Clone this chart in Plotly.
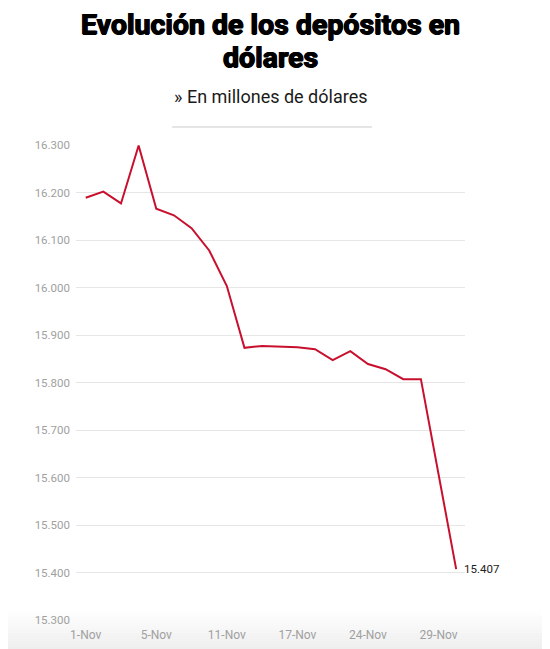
import plotly.graph_objects as go

# ---- data ----
dates = ["1-Nov", "2-Nov", "3-Nov", "4-Nov", "5-Nov", "6-Nov", "7-Nov", "8-Nov",
         "11-Nov", "12-Nov", "13-Nov", "14-Nov", "17-Nov", "18-Nov", "19-Nov", "20-Nov",
         "24-Nov", "25-Nov", "26-Nov", "27-Nov", "29-Nov", "30-Nov"]
deposits = [16189, 16202, 16177, 16299, 16166, 16152, 16125, 16078, 16003, 15873,
            15877, 15876, 15874, 15870, 15847, 15866, 15839, 15828, 15807, 15807,
            15605, 15407]
tick_dates = ["1-Nov", "5-Nov", "11-Nov", "17-Nov", "24-Nov", "29-Nov"]
y_ticks = [15300, 15400, 15500, 15600, 15700, 15800, 15900, 16000, 16100, 16200, 16300]

title_line1 = "Evolución de los depósitos en"
title_line2 = "dólares"
subtitle_text = "» En millones de dólares"
last_label = "15.407"

RED = "#c8102e"
TITLE_FONT = dict(family="Roboto, Arial", size=28.5,
                  color="#000000", weight=700,
                  shadow="0.7px 0 0 #000, -0.7px 0 0 #000, 0 0.5px 0 #000")

fig = go.Figure()
fig.add_trace(go.Scatter(
    x=dates, y=deposits, mode="lines",
    line=dict(color=RED, width=2),
    hoverinfo="x+y", showlegend=False,
))

shapes = [
    dict(type="line", xref="paper", yref="paper", x0=0.247, x1=0.761,
         y0=1.0379, y1=1.0379, line=dict(color="#cccccc", width=1)),
]
# bottom fade
n = 14
y_top, y_bot = 0.02, -0.062
for i in range(n):
    a = y_top + (y_bot - y_top) * i / n
    b = y_top + (y_bot - y_top) * (i + 1) / n
    shapes.append(dict(type="rect", xref="paper", yref="paper", x0=-0.3, x1=1.3,
                       y0=b, y1=a, line=dict(width=0), layer="below",
                       fillcolor="rgba(0,0,0,%.4f)" % (0.065 * (i + 1) / n)))

fig.update_layout(
    width=550, height=649,
    margin=dict(l=68, r=93, t=137, b=37),
    paper_bgcolor="white", plot_bgcolor="rgba(0,0,0,0)",
    separators=",.",
    font=dict(family="Roboto, Arial, sans-serif"),
    xaxis=dict(
        type="category", range=[-0.55, 21.5],
        showgrid=False, zeroline=False, showline=False,
        tickmode="array", tickvals=tick_dates, ticktext=tick_dates,
        tickfont=dict(size=12, color="#a0a0a0"),
        ticks="", ticklabelstandoff=6, fixedrange=True,
    ),
    yaxis=dict(
        range=[15300, 16300], tickmode="array", tickvals=y_ticks,
        tickformat=",.0f", showgrid=True, gridcolor="#e6e6e6", gridwidth=1,
        zeroline=False, showline=False, ticks="", ticklabelstandoff=5,
        tickfont=dict(size=11.5, color="#a0a0a0"), fixedrange=True,
    ),
    shapes=shapes,
    annotations=[
        dict(text=title_line1, xref="paper", yref="paper", x=0.5, y=1.2547,
             xanchor="center", yanchor="middle", showarrow=False, font=TITLE_FONT),
        dict(text=title_line2, xref="paper", yref="paper", x=0.5, y=1.1832,
             xanchor="center", yanchor="middle", showarrow=False, font=TITLE_FONT),
        dict(text=subtitle_text, xref="paper", yref="paper", x=0.5, y=1.103,
             xanchor="center", yanchor="middle", showarrow=False,
             font=dict(size=18, color="#1a1a1a", family="Roboto, Arial")),
        dict(text=last_label, x=dates[-1], y=deposits[-1], xref="x", yref="y",
             xanchor="left", yanchor="middle", xshift=6, showarrow=False,
             font=dict(size=11.5, color="#222222")),
    ],
)

fig.write_html("out.html")
